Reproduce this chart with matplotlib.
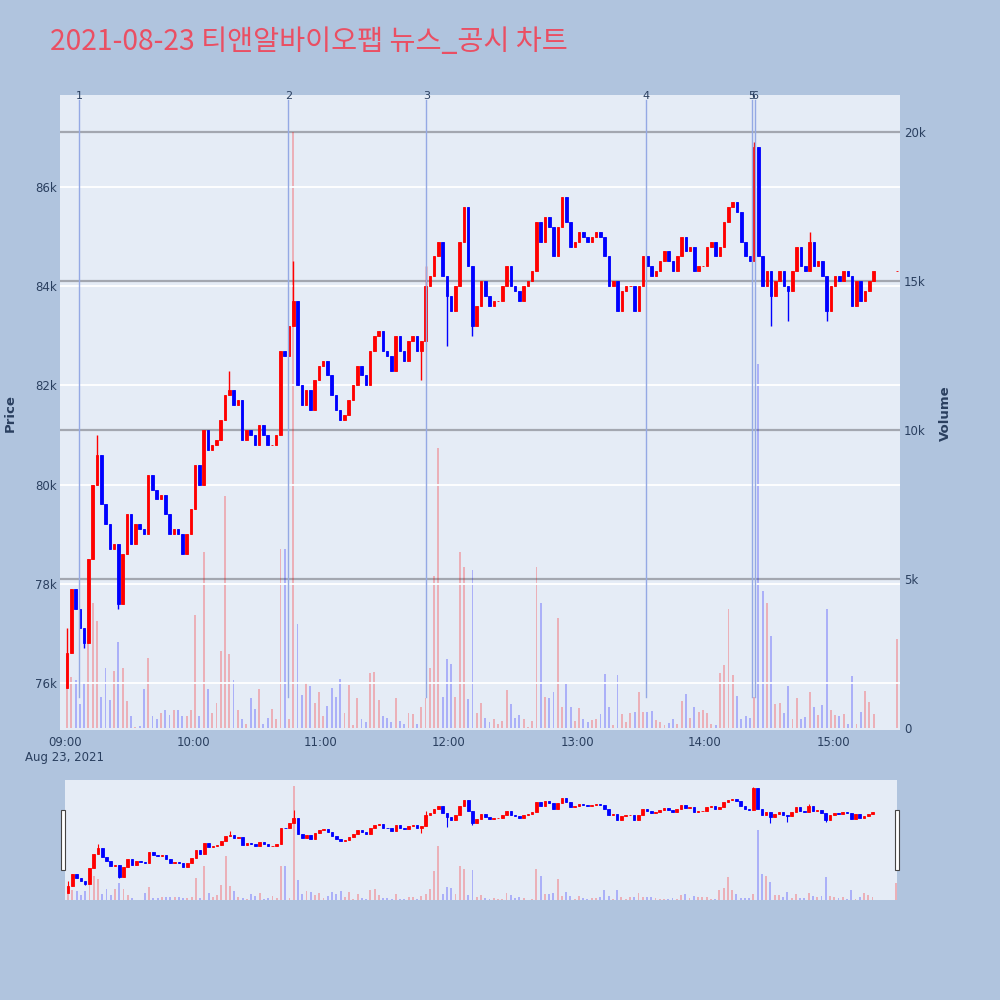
import numpy as np
import matplotlib.pyplot as plt
from matplotlib import transforms
from matplotlib.patches import Rectangle

plt.rcParams["font.family"] = ["DejaVu Sans", "Noto Sans CJK KR"]

# 2-minute bars starting at 09:00
first_open = 75900
closes = [
    76600, 77900, 77500, 77100, 76800, 78500, 80000, 80600, 79600, 79200,
    78700, 78800, 77600, 78600, 79400, 78800, 79200, 79100, 79000, 80200,
    79900, 79700, 79800, 79400, 79000, 79100, 79000, 78600, 79000, 79500,
    80400, 80000, 81100, 80700, 80800, 80900, 81300, 81800, 81900, 81600,
    81700, 80900, 81100, 81000, 80800, 81200, 81000, 80800, 80800, 81000,
    82700, 82600, 83200, 83700, 82000, 81600, 81900, 81500, 82100, 82400,
    82500, 82200, 81800, 81500, 81300, 81400, 81700, 82000, 82400, 82200,
    82000, 82700, 83000, 83100, 82700, 82600, 82300, 83000, 82700, 82500,
    82900, 83000, 82700, 82900, 84000, 84200, 84600, 84900, 84200, 83800,
    83500, 84000, 84900, 85600, 84400, 83200, 83600, 84100, 83800, 83600,
    83700, 83700, 84000, 84400, 84000, 83900, 83700, 84000, 84100, 84300,
    85300, 84900, 85400, 85200, 84600, 85200, 85800, 85300, 84800, 84900,
    85100, 85000, 84900, 85000, 85100, 85000, 84600, 84000, 84100, 83500,
    83900, 84000, 84000, 83500, 84000, 84600, 84400, 84200, 84300, 84500,
    84700, 84500, 84300, 84600, 85000, 84700, 84800, 84300, 84400, 84400,
    84800, 84900, 84600, 84800, 85300, 85600, 85700, 85500, 84900, 84600,
    84500, 86800, 84600, 84000, 84300, 83800, 84100, 84300, 84000, 83900,
    84300, 84800, 84400, 84300, 84900, 84400, 84500, 84200, 83500, 84000,
    84200, 84100, 84300, 84200, 83600, 84100, 83700, 83900, 84100, 84300,
]
volumes = [
    2400, 1700, 1600, 800, 1500, 3000, 4200, 3600, 1050, 2000,
    950, 1900, 2900, 2000, 900, 400, 50, 80, 1300, 2350,
    400, 300, 500, 600, 450, 600, 600, 400, 400, 600,
    3800, 400, 5900, 1300, 500, 850, 2600, 7800, 2500, 1600,
    600, 300, 150, 1000, 650, 1300, 150, 350, 650, 300,
    6000, 6000, 300, 20000, 3500, 1100, 1500, 1400, 830, 1200,
    400, 740, 1330, 1050, 1630, 500, 1450, 100, 1000, 300,
    200, 1830, 1880, 940, 400, 350, 200, 1000, 250, 150,
    500, 470, 150, 700, 1000, 2000, 5100, 9400, 1050, 2300,
    2150, 1030, 5900, 5400, 960, 5300, 500, 850, 350, 200,
    300, 150, 250, 1280, 800, 350, 450, 300, 50, 250,
    5400, 4200, 1050, 1000, 1200, 3700, 700, 1480, 700, 250,
    660, 300, 200, 270, 300, 470, 1800, 700, 100, 1780,
    470, 200, 500, 550, 1200, 550, 550, 570, 270, 200,
    100, 180, 300, 120, 900, 1130, 350, 700, 550, 600,
    500, 150, 100, 1830, 2100, 4000, 1780, 1070, 300, 400,
    350, 1030, 12200, 4600, 4200, 3100, 800, 830, 500, 1420,
    300, 1000, 300, 370, 1220, 700, 450, 770, 4000, 620,
    450, 400, 470, 150, 1750, 150, 550, 1240, 880, 470,
]
wick_hi_idx = [0, 7, 38, 53, 84, 161, 174]
wick_hi_val = [77100, 81000, 82300, 84500, 84400, 86900, 85100]
wick_lo_idx = [4, 12, 83, 89, 95, 165, 169, 178]
wick_lo_val = [76700, 77500, 82100, 82800, 83000, 83200, 83300, 83300]

auction_time = "15:30"
auction_price = 84300
auction_volume = 3000

news_labels = ["1", "2", "3", "4", "5", "6"]
news_times = ["09:06:30", "10:44:40", "11:49:20", "13:32:10", "14:21:50", "14:23:20"]

hour_labels = ["09:00", "10:00", "11:00", "12:00", "13:00", "14:00", "15:00"]
price_ticks = [76000, 78000, 80000, 82000, 84000, 86000]
volume_ticks = [0, 5000, 10000, 15000, 20000]


def to_min(s):
    parts = [int(p) for p in s.split(":")]
    while len(parts) < 3:
        parts.append(0)
    return (parts[0] - 9) * 60 + parts[1] + parts[2] / 60


def kfmt(v):
    return "0" if v == 0 else f"{v // 1000}k"


# assemble OHLC
c = np.array(closes + [auction_price], dtype=float)
o = np.concatenate([[first_open], c[:-1]])
t = np.append(np.arange(len(closes)) * 2 + 1.0, to_min(auction_time))
vol = np.array(volumes + [auction_volume], dtype=float)
hi = np.maximum(o, c)
lo = np.minimum(o, c)
for i, v in zip(wick_hi_idx, wick_hi_val):
    hi[i] = max(hi[i], v)
for i, v in zip(wick_lo_idx, wick_lo_val):
    lo[i] = min(lo[i], v)
up = c >= o

RED, BLUE = "#FF0000", "#0000FF"
BG = "#E5ECF6"
TXT = "#2A3F5F"


def draw_candles(ax, body_w, lw):
    cols = np.where(up, RED, BLUE)
    ax.vlines(t, lo, hi, colors=cols, lw=lw, zorder=3)
    ax.bar(t, c - o, bottom=o, width=body_w, color=cols, edgecolor=cols,
           linewidth=0.6, zorder=3)


def draw_volume(ax, w):
    cols = np.where(up, RED, BLUE)
    ax.bar(t, vol, width=w, color=cols, alpha=0.25, linewidth=0, zorder=2)


fig = plt.figure(figsize=(10, 10), dpi=100, facecolor="#B0C4DE")

# main panel: price on left, volume on right
ax = fig.add_axes([0.06, 0.27, 0.84, 0.635])
axv = ax.twinx()
ax.set_zorder(axv.get_zorder() + 1)
ax.patch.set_visible(False)
axv.patch.set_visible(True)
axv.set_facecolor(BG)

draw_volume(axv, 0.9)
draw_candles(ax, 1.2, 1.0)

ax.set_xlim(-2.34, 391.4)
ax.set_ylim(75052, 87855)
axv.set_ylim(-67, 21242)

for p in price_ticks:
    ax.axhline(p, color="white", lw=1.3, zorder=0)
for v in volume_ticks[1:]:
    axv.axhline(v, color="#A3A7B0", lw=1.6, zorder=1)

ax.set_yticks(price_ticks, [kfmt(p) for p in price_ticks])
axv.set_yticks(volume_ticks, [kfmt(v) for v in volume_ticks])
xt = [to_min(h) for h in hour_labels]
xl = list(hour_labels)
xl[0] = xl[0] + "\nAug 23, 2021"
ax.set_xticks(xt, xl)

for a in (ax, axv):
    for s in a.spines.values():
        s.set_visible(False)
    a.tick_params(length=0, labelcolor=TXT, labelsize=8.5)
ax.tick_params(axis="y", pad=2)
ax.tick_params(axis="x", pad=4)
axv.tick_params(axis="y", pad=3)

# news markers
trans = transforms.blended_transform_factory(ax.transData, ax.transAxes)
for lab, tm in zip(news_labels, news_times):
    x = to_min(tm)
    ax.plot([x, x], [0.052, 0.992], transform=trans, color="#94A9E4",
            lw=1, zorder=4)
    ax.text(x, 0.998, lab, transform=trans, ha="center", va="center",
            fontsize=8, color=TXT, zorder=5)

fig.text(0.05, 0.958, "2021-08-23 티앤알바이오팹 뉴스_공시 차트",
         family=["Noto Sans CJK KR"], fontsize=20.4, color="#EA4F63",
         ha="left", va="center")
fig.text(0.01, 0.587, "Price", rotation=90, fontsize=9.5, fontweight="bold",
         color=TXT, ha="center", va="center")
fig.text(0.945, 0.587, "Volume", rotation=90, fontsize=9.5, fontweight="bold",
         color=TXT, ha="center", va="center")

# range slider
rs = fig.add_axes([0.065, 0.10, 0.832, 0.12])
rsv = rs.twinx()
rs.set_zorder(rsv.get_zorder() + 1)
rs.patch.set_visible(False)
rsv.patch.set_visible(True)
rsv.set_facecolor(BG)
draw_volume(rsv, 0.9)
draw_candles(rs, 1.2, 0.8)
rs.set_xlim(-0.5, 390.5)
rs.set_ylim(75180, 87630)
rsv.set_ylim(0, 21050)
for a in (rs, rsv):
    a.set_xticks([])
    a.set_yticks([])
    for s in a.spines.values():
        s.set_visible(False)

for x0 in (0.061, 0.895):
    fig.patches.append(Rectangle((x0, 0.13), 0.004, 0.06, transform=fig.transFigure,
                                 facecolor="white", edgecolor="#444444", lw=0.8))

fig.savefig("out.png", dpi=100, facecolor=fig.get_facecolor())
